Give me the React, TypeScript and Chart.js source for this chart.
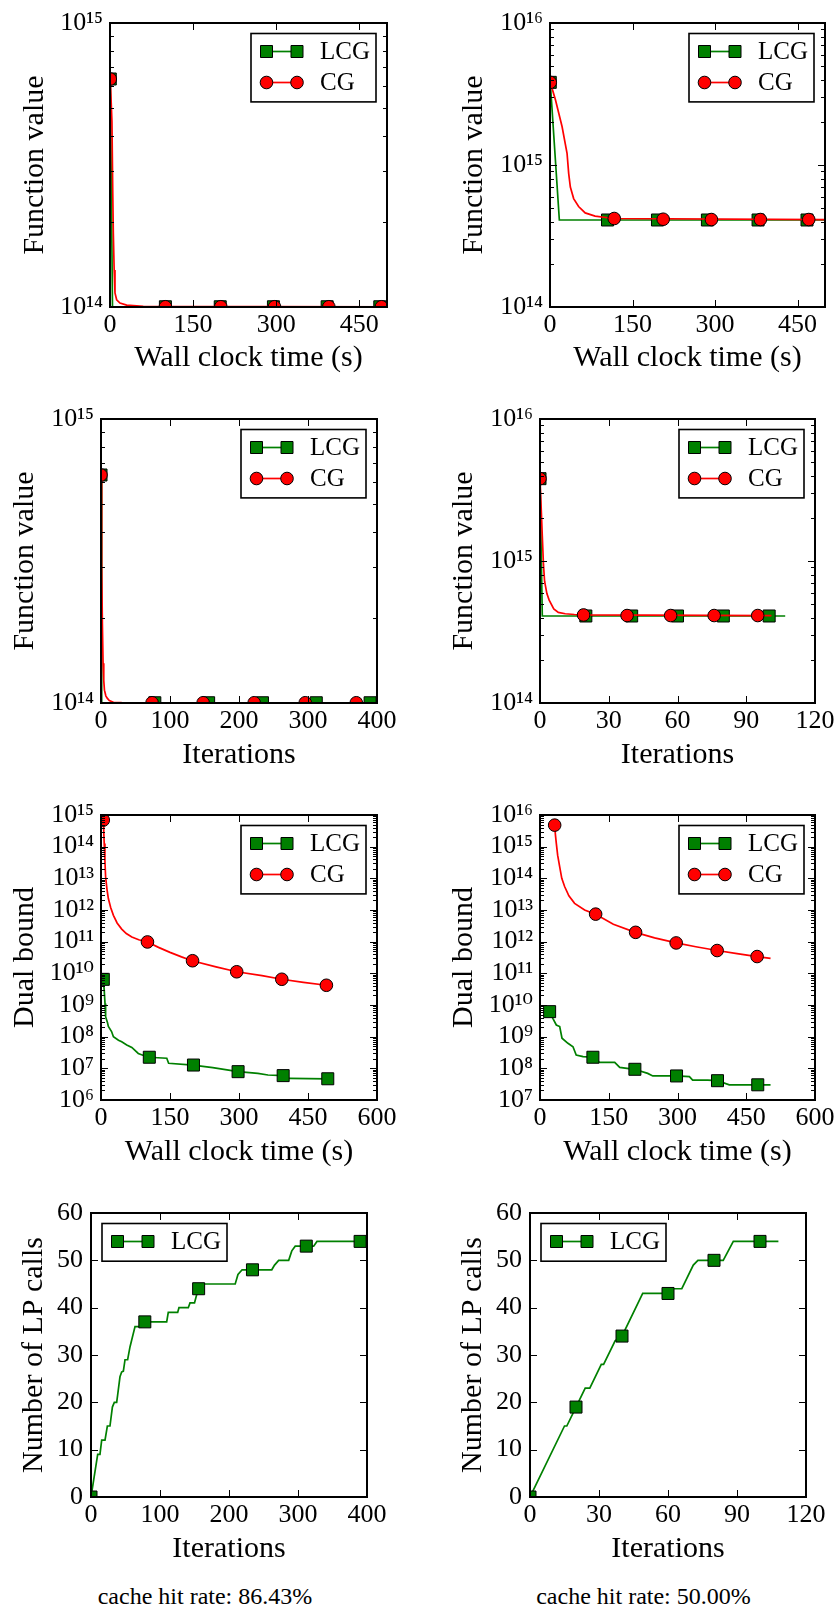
import React, { useEffect, useRef } from 'react';
import { Chart, registerables } from 'chart.js';

Chart.register(...registerables);

const SERIF = "'Liberation Serif', 'DejaVu Serif', serif";
const GREEN = '#008000';
const RED = '#ff0000';

// ---------- Panel 1: Function value vs wall clock time (left) ----------
const p1LcgX = [0.5, 4.5, 500];
const p1LcgY = [6.35e14, 1.002e14, 1.002e14];
const p1LcgMkX = [0.5, 100, 199, 295, 392, 487];
const p1LcgMkY = [6.35e14, 1.002e14, 1.002e14, 1.002e14, 1.002e14, 1.002e14];
const p1CgX = [0.5, 3.5, 5, 6, 7.5, 9, 12, 18, 30, 60, 500];
const p1CgY = [6.35e14, 4.5e14, 2.5e14, 1.82e14, 1.35e14, 1.12e14, 1.06e14, 1.033e14, 1.015e14, 1.005e14, 1.002e14];
const p1CgMkX = [0.5, 100, 200, 297, 395, 490];
const p1CgMkY = [6.35e14, 1.002e14, 1.002e14, 1.002e14, 1.002e14, 1.002e14];
const p1XTicks = [0, 150, 300, 450];
const p1YExp = [14, 15];

// ---------- Panel 2: Function value vs wall clock time (right) ----------
const p2LcgX = [0.5, 17, 500];
const p2LcgY = [3.82e15, 4.1e14, 4.1e14];
const p2LcgMkX = [0.5, 104.6, 195.4, 286.2, 378.3, 467.3];
const p2LcgMkY = [3.82e15, 4.1e14, 4.1e14, 4.1e14, 4.1e14, 4.1e14];
const p2CgX = [0.5, 10, 22, 31, 34, 37, 43, 52, 64, 82, 116, 500];
const p2CgY = [3.82e15, 2.87e15, 1.86e15, 1.21e15, 8.7e14, 7.0e14, 5.8e14, 5.1e14, 4.6e14, 4.37e14, 4.2e14, 4.13e14];
const p2CgMkX = [0.5, 116.8, 205.8, 293.5, 382.5, 470.4];
const p2CgMkY = [3.82e15, 4.2e14, 4.15e14, 4.13e14, 4.13e14, 4.13e14];
const p2XTicks = [0, 150, 300, 450];
const p2YExp = [14, 15, 16];

// ---------- Panel 3: Function value vs iterations (left) ----------
const p3LcgX = [0, 1, 395];
const p3LcgY = [6.35e14, 1.002e14, 1.002e14];
const p3LcgMkX = [0, 78, 156, 234, 312, 390];
const p3LcgMkY = [6.35e14, 1.002e14, 1.002e14, 1.002e14, 1.002e14, 1.002e14];
const p3CgX = [0, 1, 2, 3, 4, 5, 7, 9, 12, 18, 30, 375];
const p3CgY = [6.35e14, 3.0e14, 1.9e14, 1.38e14, 1.2e14, 1.11e14, 1.06e14, 1.04e14, 1.02e14, 1.006e14, 1.003e14, 1.002e14];
const p3CgMkX = [0, 74, 148, 222, 296, 370];
const p3CgMkY = [6.35e14, 1.002e14, 1.002e14, 1.002e14, 1.002e14, 1.002e14];
const p3XTicks = [0, 100, 200, 300, 400];
const p3YExp = [14, 15];

// ---------- Panel 4: Function value vs iterations (right) ----------
const p4LcgX = [0, 1, 107];
const p4LcgY = [3.8e15, 4.1e14, 4.1e14];
const p4LcgMkX = [0, 20, 40, 60, 80, 100];
const p4LcgMkY = [3.8e15, 4.1e14, 4.1e14, 4.1e14, 4.1e14, 4.1e14];
const p4CgX = [0, 0.5, 1, 1.5, 2, 3, 4, 6, 8, 11, 15, 19, 101];
const p4CgY = [3.8e15, 2.4e15, 1.5e15, 9.5e14, 7.2e14, 5.9e14, 5.3e14, 4.6e14, 4.35e14, 4.25e14, 4.2e14, 4.17e14, 4.13e14];
const p4CgMkX = [0, 19, 38, 57, 76, 95];
const p4CgMkY = [3.8e15, 4.17e14, 4.13e14, 4.13e14, 4.13e14, 4.13e14];
const p4XTicks = [0, 30, 60, 90, 120];
const p4YExp = [14, 15, 16];

// ---------- Panel 5: Dual bound vs wall clock time (left) ----------
const p5LcgX = [5, 7, 8.7, 10, 14, 16, 23, 27, 38, 45, 56, 67, 81, 103, 143, 147, 200, 243, 298, 341, 363, 395, 410, 493];
const p5LcgY = [6.46e9, 2.95e9, 1.12e9, 4.27e8, 2.82e8, 2.09e8, 1.45e8, 1.0e8, 7.76e7, 6.92e7, 5.5e7, 4.57e7, 2.95e7, 2.24e7, 2.09e7, 1.45e7, 1.27e7, 1.05e7, 7.85e6, 6.92e6, 6.17e6, 5.89e6, 4.79e6, 4.68e6];
const p5LcgMkX = [5, 105, 201, 298, 396, 493];
const p5LcgMkY = [6.46e9, 2.24e7, 1.27e7, 7.85e6, 5.89e6, 4.68e6];
const p5CgX = [5, 6, 7, 8.5, 10, 13, 16, 21, 27, 35, 45, 55, 67, 82, 101, 125, 150, 175, 198, 250, 295, 350, 393, 440, 490];
const p5CgY = [6.9e14, 3.0e14, 1.26e14, 3.6e13, 1.12e13, 4.5e12, 2.3e12, 1.2e12, 6.8e11, 3.9e11, 2.5e11, 1.8e11, 1.4e11, 1.15e11, 9.8e10, 6.6e10, 4.6e10, 3.3e10, 2.5e10, 1.6e10, 1.12e10, 8.5e9, 6.5e9, 5.2e9, 4.2e9];
const p5CgMkX = [5, 101, 199, 295, 393, 490];
const p5CgMkY = [6.9e14, 9.8e10, 2.5e10, 1.12e10, 6.5e9, 4.2e9];
const p5XTicks = [0, 150, 300, 450, 600];
const p5YExp = [6, 7, 8, 9, 10, 11, 12, 13, 14, 15];

// ---------- Panel 6: Dual bound vs wall clock time (right) ----------
const p6LcgX = [21, 28, 35.6, 43, 48, 61, 72, 79, 94, 115.5, 130, 163, 174, 206, 235, 246, 297, 326, 333, 366, 387, 413, 503];
const p6LcgY = [6.17e9, 3.8e9, 2.34e9, 2.09e9, 8.91e8, 6.17e8, 4.79e8, 2.63e8, 2.34e8, 2.24e8, 1.55e8, 1.55e8, 1.07e8, 9.33e7, 6.92e7, 5.75e7, 5.75e7, 5.5e7, 4.27e7, 4.27e7, 4.07e7, 3.02e7, 3.02e7];
const p6LcgMkX = [21, 115.4, 207, 297.9, 387.3, 475.1];
const p6LcgMkY = [6.17e9, 2.24e8, 9.33e7, 5.75e7, 4.07e7, 3.02e7];
const p6CgX = [32, 33.5, 35.6, 38.5, 42.9, 47.5, 53.7, 63, 75.5, 97.3, 120.5, 160, 208, 250, 297, 340, 386.5, 430, 473.7, 503];
const p6CgY = [4.79e15, 2.5e15, 1.27e15, 5.4e14, 2.34e14, 1.0e14, 5.5e13, 2.8e13, 1.62e13, 1.0e13, 7.41e12, 3.55e12, 1.97e12, 1.32e12, 9.12e11, 6.92e11, 5.25e11, 4.17e11, 3.39e11, 2.95e11];
const p6CgMkX = [32, 121.4, 208.6, 297.1, 386.5, 473.7];
const p6CgMkY = [4.79e15, 7.41e12, 1.97e12, 9.12e11, 5.25e11, 3.39e11];
const p6XTicks = [0, 150, 300, 450, 600];
const p6YExp = [7, 8, 9, 10, 11, 12, 13, 14, 15, 16];

// ---------- Panel 7: Number of LP calls vs iterations (left) ----------
const p7LcgX = [0, 9.7, 13, 15.5, 20.3, 23.7, 27.5, 31, 33.8, 37.2, 38.6, 42, 44.4, 46.9, 49.3, 53.1, 56.5, 58.9, 63.8, 73.4, 78.3, 109.7, 112, 125.6, 127.5, 141, 143.5, 150, 153.6, 157, 160.9, 209, 213, 219, 262, 266, 272, 286.5, 291, 296, 322.7, 327.5, 397];
const p7LcgY = [0, 9, 9, 12, 12, 15, 15, 19, 20, 20, 21.5, 25.4, 26.4, 26.6, 29, 29, 31.7, 33.1, 36, 36, 37, 37, 39, 39, 40, 40, 41, 41, 43, 44, 45, 45, 47, 48, 48, 49, 50, 50, 52, 53, 53, 54, 54];
const p7LcgMkX = [0, 78, 156, 234, 312, 390];
const p7LcgMkY = [0, 37, 44, 48, 53, 54];
const p7XTicks = [0, 100, 200, 300, 400];
const p7YTicks = [0, 10, 20, 30, 40, 50, 60];

// ---------- Panel 8: Number of LP calls vs iterations (right) ----------
const p8LcgX = [0, 15, 16, 20, 24, 26, 31, 32, 37, 40, 49, 60, 61.5, 66, 71, 73, 84, 88.4, 108];
const p8LcgY = [0, 15, 15, 19, 23, 23, 28, 28, 33, 34, 43, 43, 44, 44, 49, 50, 50, 54, 54];
const p8LcgMkX = [0, 20, 40, 60, 80, 100];
const p8LcgMkY = [0, 19, 34, 43, 50, 54];
const p8XTicks = [0, 30, 60, 90, 120];
const p8YTicks = [0, 10, 20, 30, 40, 50, 60];

const cacheLeft = 'cache hit rate: 86.43%';
const cacheRight = 'cache hit rate: 50.00%';

// ---------- layout ----------
const ML = 110;
const MT = 40;
const MR = 40;
const MB = 75;
const SQ = 12;
const CR = 6.3;
const TITLE_SIZE = 30;
const TICK_SIZE = 26;
const LEGEND_SIZE = 25;

const SUP: Record<string, string> = {
  '0': '\u2070', '1': '\u00b9', '2': '\u00b2', '3': '\u00b3', '4': '\u2074',
  '5': '\u2075', '6': '\u2076', '7': '\u2077', '8': '\u2078', '9': '\u2079', '-': '\u207b',
};
const pow10Label = (v: number) =>
  '10' + String(Math.round(Math.log10(v))).split('').map((c) => SUP[c]).join('');

type Series = { label: string; color: string; style: 'rect' | 'circle'; x: number[]; y: number[]; mx: number[]; my: number[] };
type Spec = {
  rect: { L: number; T: number; R: number; B: number };
  xMax: number; xTicks: number[]; xTitle: string; xtY: number;
  log: boolean; yTicks: number[]; yTitle: string; ytX: number;
  legend: 'ur' | 'ul';
  series: Series[];
};

const lcg = (x: number[], y: number[], mx: number[], my: number[]): Series => ({ label: 'LCG', color: GREEN, style: 'rect', x, y, mx, my });
const cg = (x: number[], y: number[], mx: number[], my: number[]): Series => ({ label: 'CG', color: RED, style: 'circle', x, y, mx, my });

const PANELS: Spec[] = [
  { rect: { L: 110, T: 23, R: 387, B: 307 }, xMax: 500, xTicks: p1XTicks, xTitle: 'Wall clock time (s)', xtY: 358, log: true, yTicks: p1YExp, yTitle: 'Function value', ytX: 35, legend: 'ur',
    series: [lcg(p1LcgX, p1LcgY, p1LcgMkX, p1LcgMkY), cg(p1CgX, p1CgY, p1CgMkX, p1CgMkY)] },
  { rect: { L: 550, T: 23, R: 825, B: 307 }, xMax: 500, xTicks: p2XTicks, xTitle: 'Wall clock time (s)', xtY: 358, log: true, yTicks: p2YExp, yTitle: 'Function value', ytX: 474.5, legend: 'ur',
    series: [lcg(p2LcgX, p2LcgY, p2LcgMkX, p2LcgMkY), cg(p2CgX, p2CgY, p2CgMkX, p2CgMkY)] },
  { rect: { L: 101, T: 419, R: 377, B: 703 }, xMax: 400, xTicks: p3XTicks, xTitle: 'Iterations', xtY: 755.5, log: true, yTicks: p3YExp, yTitle: 'Function value', ytX: 25, legend: 'ur',
    series: [lcg(p3LcgX, p3LcgY, p3LcgMkX, p3LcgMkY), cg(p3CgX, p3CgY, p3CgMkX, p3CgMkY)] },
  { rect: { L: 540, T: 419, R: 815, B: 703 }, xMax: 120, xTicks: p4XTicks, xTitle: 'Iterations', xtY: 755.5, log: true, yTicks: p4YExp, yTitle: 'Function value', ytX: 464.5, legend: 'ur',
    series: [lcg(p4LcgX, p4LcgY, p4LcgMkX, p4LcgMkY), cg(p4CgX, p4CgY, p4CgMkX, p4CgMkY)] },
  { rect: { L: 101, T: 815, R: 377, B: 1100 }, xMax: 600, xTicks: p5XTicks, xTitle: 'Wall clock time (s)', xtY: 1152, log: true, yTicks: p5YExp, yTitle: 'Dual bound', ytX: 25, legend: 'ur',
    series: [lcg(p5LcgX, p5LcgY, p5LcgMkX, p5LcgMkY), cg(p5CgX, p5CgY, p5CgMkX, p5CgMkY)] },
  { rect: { L: 540, T: 815, R: 815, B: 1100 }, xMax: 600, xTicks: p6XTicks, xTitle: 'Wall clock time (s)', xtY: 1152, log: true, yTicks: p6YExp, yTitle: 'Dual bound', ytX: 464.5, legend: 'ur',
    series: [lcg(p6LcgX, p6LcgY, p6LcgMkX, p6LcgMkY), cg(p6CgX, p6CgY, p6CgMkX, p6CgMkY)] },
  { rect: { L: 91, T: 1213, R: 367, B: 1497 }, xMax: 400, xTicks: p7XTicks, xTitle: 'Iterations', xtY: 1549, log: false, yTicks: p7YTicks, yTitle: 'Number of LP calls', ytX: 34, legend: 'ul',
    series: [lcg(p7LcgX, p7LcgY, p7LcgMkX, p7LcgMkY)] },
  { rect: { L: 530, T: 1213, R: 806, B: 1497 }, xMax: 120, xTicks: p8XTicks, xTitle: 'Iterations', xtY: 1549, log: false, yTicks: p8YTicks, yTitle: 'Number of LP calls', ytX: 473, legend: 'ul',
    series: [lcg(p8LcgX, p8LcgY, p8LcgMkX, p8LcgMkY)] },
];

function drawMarker(ctx: CanvasRenderingContext2D, style: string, x: number, y: number, color: string) {
  ctx.beginPath();
  if (style === 'rect') ctx.rect(x - SQ / 2, y - SQ / 2, SQ, SQ);
  else ctx.arc(x, y, CR, 0, Math.PI * 2);
  ctx.fillStyle = color;
  ctx.fill();
  ctx.lineWidth = 1;
  ctx.strokeStyle = '#000';
  ctx.stroke();
}

function majorY(p: Spec): number[] {
  return p.log ? p.yTicks.map((e) => Math.pow(10, e)) : p.yTicks;
}

function makeOverlay(p: Spec) {
  return {
    id: 'overlay',
    afterDraw(chart: any) {
      const { ctx, chartArea: a } = chart;
      const xs = chart.scales.x;
      const ys = chart.scales.y;
      ctx.save();
      ctx.strokeStyle = '#000';
      ctx.lineWidth = 1;
      const MAJ = 7;
      const MIN = 4;
      ctx.beginPath();
      for (const v of p.xTicks) {
        const px = Math.round(xs.getPixelForValue(v)) + 0.5;
        ctx.moveTo(px, a.bottom);
        ctx.lineTo(px, a.bottom - MAJ);
        ctx.moveTo(px, a.top);
        ctx.lineTo(px, a.top + MAJ);
      }
      for (const v of majorY(p)) {
        const py = Math.round(ys.getPixelForValue(v)) + 0.5;
        ctx.moveTo(a.left, py);
        ctx.lineTo(a.left + MAJ, py);
        ctx.moveTo(a.right, py);
        ctx.lineTo(a.right - MAJ, py);
      }
      if (p.log) {
        for (let i = 0; i < p.yTicks.length - 1; i++) {
          for (let k = 2; k <= 9; k++) {
            const py = Math.round(ys.getPixelForValue(k * Math.pow(10, p.yTicks[i]))) + 0.5;
            ctx.moveTo(a.left, py);
            ctx.lineTo(a.left + MIN, py);
            ctx.moveTo(a.right, py);
            ctx.lineTo(a.right - MIN, py);
          }
        }
      }
      ctx.stroke();
      ctx.lineWidth = 2;
      ctx.strokeRect(a.left, a.top, a.right - a.left, a.bottom - a.top);

      // legend
      const n = p.series.length;
      const bw = 125;
      const bh = 37.7 + 30.7 * (n - 1);
      const bx = p.legend === 'ur' ? a.right - 11 - bw : a.left + 11;
      const by = a.top + 10.5;
      ctx.fillStyle = '#fff';
      ctx.fillRect(bx, by, bw, bh);
      ctx.lineWidth = 1.6;
      ctx.strokeStyle = '#000';
      ctx.strokeRect(bx, by, bw, bh);
      p.series.forEach((s, i) => {
        const ry = by + 18 + i * 31;
        ctx.strokeStyle = s.color;
        ctx.lineWidth = 1.7;
        ctx.beginPath();
        ctx.moveTo(bx + 15.5, ry);
        ctx.lineTo(bx + 46, ry);
        ctx.stroke();
        drawMarker(ctx, s.style, bx + 15.5, ry, s.color);
        drawMarker(ctx, s.style, bx + 46, ry, s.color);
        ctx.fillStyle = '#000';
        ctx.font = `${LEGEND_SIZE}px ${SERIF}`;
        ctx.textBaseline = 'middle';
        ctx.textAlign = 'left';
        ctx.fillText(s.label, bx + 69, ry + 1);
      });
      ctx.restore();
    },
  };
}

function buildConfig(p: Spec): any {
  const { L, B } = p.rect;
  const datasets: any[] = [];
  const n = p.series.length;
  const rectR = SQ / 2 / Math.SQRT1_2;
  p.series.forEach((s, i) => {
    const base = (n - 1 - i) * 2;
    datasets.push({
      label: s.label,
      data: s.x.map((x, j) => ({ x, y: s.y[j] })),
      borderColor: s.color,
      backgroundColor: s.color,
      borderWidth: 1.7,
      pointRadius: 0,
      pointHoverRadius: 0,
      tension: 0,
      fill: false,
      clip: 0,
      order: base + 1,
    });
    datasets.push({
      label: s.label + ' markers',
      data: s.mx.map((x, j) => ({ x, y: s.my[j] })),
      showLine: false,
      pointStyle: s.style,
      pointRadius: s.style === 'rect' ? rectR : CR,
      pointHoverRadius: s.style === 'rect' ? rectR : CR,
      pointBackgroundColor: s.color,
      pointBorderColor: '#000',
      pointBorderWidth: 1,
      clip: 0,
      order: base,
    });
  });
  const yMaj = majorY(p);
  const tickFont = { family: SERIF, size: TICK_SIZE, lineHeight: 1.2 };
  const titleFont = { family: SERIF, size: TITLE_SIZE, lineHeight: 1 };
  return {
    type: 'line',
    data: { datasets },
    options: {
      responsive: false,
      animation: false,
      devicePixelRatio: 1,
      events: [],
      layout: { padding: { left: 0, top: MT, right: MR, bottom: 0 }, autoPadding: false },
      plugins: { legend: { display: false }, tooltip: { enabled: false } },
      scales: {
        x: {
          type: 'linear',
          min: 0,
          max: p.xMax,
          bounds: 'data',
          grid: { display: false, drawTicks: false },
          border: { display: false },
          ticks: { color: '#000', font: tickFont, padding: 3, autoSkip: false, maxRotation: 0, minRotation: 0, callback: (v: number) => String(v) },
          afterBuildTicks: (s: any) => { s.ticks = p.xTicks.map((v) => ({ value: v })); },
          afterFit: (s: any) => { s.height = MB; },
          title: { display: true, text: p.xTitle, color: '#000', font: titleFont, padding: { top: 0, bottom: B + MB - p.xtY - TITLE_SIZE / 2 } },
        },
        y: {
          type: p.log ? 'logarithmic' : 'linear',
          min: yMaj[0],
          max: yMaj[yMaj.length - 1],
          bounds: 'data',
          grid: { display: false, drawTicks: false },
          border: { display: false },
          ticks: { color: '#000', font: tickFont, padding: p.log ? 7 : 8, autoSkip: false, callback: (v: number) => (p.log ? pow10Label(v) : String(v)) },
          afterBuildTicks: (s: any) => { s.ticks = yMaj.map((v) => ({ value: v })); },
          afterFit: (s: any) => { s.width = ML; },
          title: { display: true, text: p.yTitle, color: '#000', font: titleFont, padding: { top: p.ytX - (L - ML) - TITLE_SIZE / 2, bottom: 0 } },
        },
      },
    },
    plugins: [makeOverlay(p)],
  };
}

function Panel({ spec }: { spec: Spec }) {
  const ref = useRef<HTMLCanvasElement | null>(null);
  useEffect(() => {
    if (!ref.current) return;
    const chart = new Chart(ref.current, buildConfig(spec));
    return () => chart.destroy();
  }, [spec]);
  const { L, T, R, B } = spec.rect;
  const left = L - ML;
  const top = T - MT;
  const w = R - L + ML + MR;
  const h = B - T + MT + MB;
  return (
    <canvas
      ref={ref}
      width={w}
      height={h}
      style={{ position: 'absolute', left, top, width: w, height: h }}
    />
  );
}

export default function App() {
  const captionStyle = (cx: number, cy: number): React.CSSProperties => ({
    position: 'absolute',
    left: cx,
    top: cy,
    transform: 'translate(-50%, -50%)',
    fontFamily: SERIF,
    fontSize: 24,
    color: '#000',
    whiteSpace: 'nowrap',
    lineHeight: 1,
  });
  return (
    <div style={{ position: 'absolute', left: 0, top: 0, width: 836, height: 1611, overflow: 'hidden', background: '#fff' }}>
      {PANELS.map((p, i) => (
        <Panel key={i} spec={p} />
      ))}
      <div style={captionStyle(205, 1596)}>{cacheLeft}</div>
      <div style={captionStyle(643.5, 1596)}>{cacheRight}</div>
    </div>
  );
}
